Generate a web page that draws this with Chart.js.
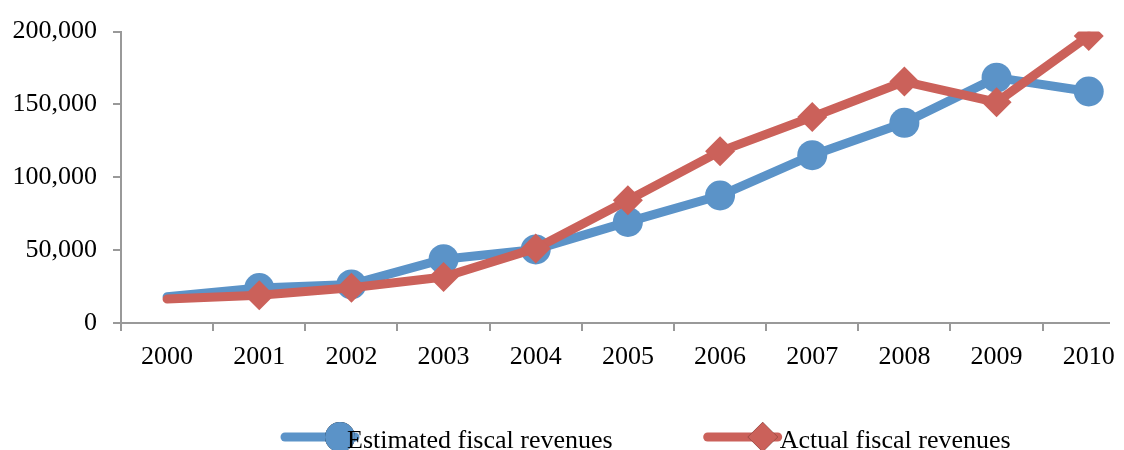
<!DOCTYPE html>
<html>
<head>
<meta charset="utf-8">
<script src="https://cdn.jsdelivr.net/npm/chart.js@4.4.1/dist/chart.umd.min.js"></script>
<style>
    html, body { margin: 0; padding: 0; background: #fff; overflow: hidden; }
    #wrap { width: 1124px; height: 450px; position: relative; }
</style>
</head>
<body>
<div id="wrap"><canvas id="myChart"></canvas></div>
<script>
let anos = ["2000", "2001", "2002", "2003", "2004", "2005", "2006", "2007", "2008", "2009", "2010"]
let estimado = [18000, 24000, 26500, 43800, 50500, 69400, 87500, 115200, 137400, 168400, 158900]
let real = [16500, 19000, 24200, 31600, 51200, 84200, 117800, 141400, 165700, 151500, 197000]
let yTicks = [0, 50000, 100000, 150000, 200000]

let azul = "#5b93c8"
let vermelho = "#cb615a"
let fonte = "'Liberation Serif', 'Times New Roman', serif"

// the original axis runs a little past the right edge of the picture
let xMin = -0.5
let xMax = 10.22

function pontos(valores) {
    let p = []
    for (let i = 0; i < valores.length; i++) {
        p.push({ x: i, y: valores[i] })
    }
    return p
}

// first point of each line has no marker in the original
function raios(valores) {
    let r = []
    for (let i = 0; i < valores.length; i++) {
        r.push(i == 0 ? 0 : 15)
    }
    return r
}

// legend drawn by hand: line + marker with text overlapping, like the original
let legendaPlugin = {
    id: "legendaManual",
    afterDraw(chart) {
        let ctx = chart.ctx
        let y = 437
        let x = 285
        ctx.save()
        ctx.font = "26px " + fonte
        let datasets = chart.data.datasets
        for (let i = 0; i < datasets.length; i++) {
            let ds = datasets[i]
            ctx.strokeStyle = ds.borderColor
            ctx.lineWidth = 9
            ctx.lineCap = "round"
            ctx.beginPath()
            ctx.moveTo(x, y)
            ctx.lineTo(x + 70, y)
            ctx.stroke()
            Chart.helpers.drawPoint(ctx, {
                pointStyle: ds.pointStyle,
                radius: 15,
                borderWidth: 0,
                rotation: 0
            }, x + 55, y)
            ctx.fillStyle = ds.borderColor
            ctx.fill()
            ctx.fillStyle = "#000"
            ctx.textBaseline = "alphabetic"
            ctx.textAlign = "left"
            let tx = x + 62 + (i == 1 ? 10 : 0)
            ctx.fillText(ds.label, tx, 448)
            x = tx + ctx.measureText(ds.label).width + 95
        }
        ctx.restore()
    }
}

function chartJS() {
    let ctx = document.getElementById("myChart").getContext("2d")
    window.grafico = new Chart(ctx, {
        type: "line",
        data: {
            datasets: [{
                label: "Estimated fiscal revenues",
                data: pontos(estimado),
                borderColor: azul,
                backgroundColor: azul,
                borderWidth: 9,
                pointStyle: "circle",
                pointRadius: raios(estimado),
                pointBorderWidth: 0,
                pointBackgroundColor: azul,
                borderCapStyle: "round",
                borderJoinStyle: "round",
                order: 1
            }, {
                label: "Actual fiscal revenues",
                data: pontos(real),
                borderColor: vermelho,
                backgroundColor: vermelho,
                borderWidth: 9,
                pointStyle: "rectRot",
                pointRadius: raios(real),
                pointBorderWidth: 0,
                pointBackgroundColor: vermelho,
                borderCapStyle: "round",
                borderJoinStyle: "round",
                order: 0
            }]
        },
        options: {
            responsive: true,
            maintainAspectRatio: false,
            animation: false,
            layout: { padding: { top: 26, right: 0, left: 0, bottom: 0 } },
            plugins: {
                legend: { display: false },
                tooltip: { enabled: false }
            },
            scales: {
                x: {
                    type: "linear",
                    min: xMin,
                    max: xMax,
                    afterBuildTicks: function (s) {
                        s.ticks = anos.map(function (a, i) { return { value: i } })
                    },
                    grid: {
                        offset: true,
                        drawOnChartArea: false,
                        color: "#999",
                        lineWidth: 2,
                        tickLength: 8
                    },
                    border: { color: "#999", width: 2 },
                    ticks: {
                        color: "#000",
                        padding: 11,
                        maxRotation: 0,
                        autoSkip: false,
                        font: { family: fonte, size: 26 },
                        callback: function (v) { return anos[v] }
                    },
                    afterFit: function (s) {
                        s.height = 127
                        s.paddingLeft = 0
                        s.paddingRight = 0
                    }
                },
                y: {
                    min: 0,
                    max: 200000,
                    afterBuildTicks: function (s) {
                        s.ticks = yTicks.map(function (v) { return { value: v } })
                    },
                    grid: {
                        drawOnChartArea: false,
                        color: "#999",
                        lineWidth: 2,
                        tickLength: 8
                    },
                    border: { color: "#999", width: 2 },
                    ticks: {
                        color: "#000",
                        padding: 16,
                        font: { family: fonte, size: 26 },
                        callback: function (v) { return v.toLocaleString("en-US") }
                    },
                    afterFit: function (s) { s.width = 121 }
                }
            }
        },
        plugins: [legendaPlugin]
    })
}

chartJS()
</script>
</body>
</html>
